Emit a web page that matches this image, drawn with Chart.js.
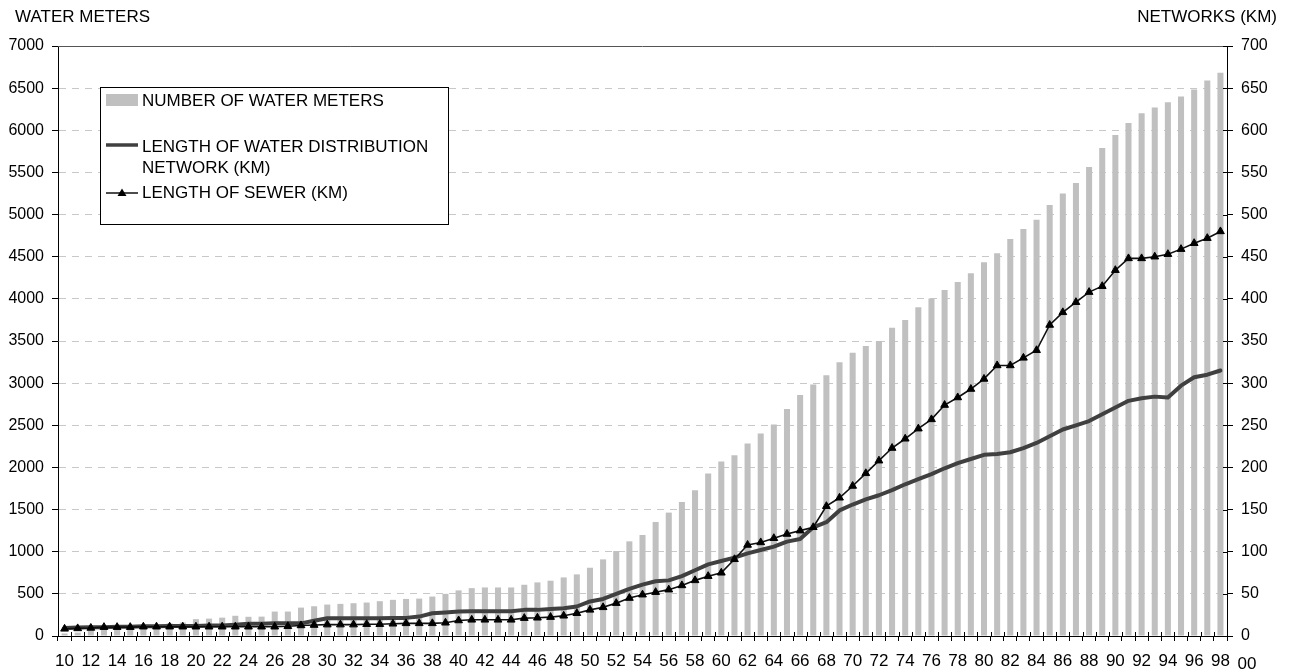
<!DOCTYPE html>
<html><head><meta charset="utf-8">
<script src="https://cdn.jsdelivr.net/npm/chart.js@4.4.0/dist/chart.umd.min.js"></script>
<style>html,body{margin:0;padding:0;background:#fff;}#wrap{width:1295px;height:672px;position:relative;}</style>
</head><body><div id="wrap"><canvas id="c" width="1295" height="672"></canvas></div>
<script>
const years = ['10','11','12','13','14','15','16','17','18','19','20','21','22','23','24','25','26','27','28','29',
'30','31','32','33','34','35','36','37','38','39','40','41','42','43','44','45','46','47','48','49',
'50','51','52','53','54','55','56','57','58','59','60','61','62','63','64','65','66','67','68','69',
'70','71','72','73','74','75','76','77','78','79','80','81','82','83','84','85','86','87','88','89',
'90','91','92','93','94','95','96','97','98'];
const extraLabel = '00';
const waterMeters = [30,40,60,80,100,110,120,130,150,160,
200,206,218,240,228,230,290,290,337,353,373,381,389,397,413,429,440,444,468,500,
541,568,576,576,576,608,636,656,695,731,810,909,1008,1123,1198,1353,1464,1590,1729,1927,
2070,2145,2284,2403,2510,2692,2858,2985,3095,3247,
3361,3441,3500,3658,3750,3901,4003,4106,4201,4305,4435,4542,4709,4828,4938,5113,5251,5375,5565,5790,
5945,6087,6202,6269,6332,6400,6483,6590,6682];
const waterNetworkKm = [9.5,10,10.5,10.5,11,11,11.5,11.5,12,12,12,12.5,12.5,13.5,14.5,14.5,15,15,15,18,
21,21,21,21,21,21.5,21.5,23,27,28,
29,29.5,29.5,29.5,29.5,31,31,32,33,35,41,44,50,56,61,65,66,71,78,85,89,93,98,102,106,112,115,129,135,149,156,
162,167,173,180,186,192,199,205,210,215,216,218,223,229,237,245,250,255,263,271,279,282,284,283,297,307,310,315];
const sewerKm = [8.5,9,9.5,10.5,10.5,10.5,11,11,11,11,11,11,11,11,11,11,11,11.5,12.5,13,
13.5,13.5,13.5,14,14,14.5,15,15,15,15.7,
18.4,19.2,19.2,19.2,19.2,21.2,21.6,22.4,24,27,31,34,39,45,49,52,55,60,66,71,75,91,108,111,116,121,125,129,154,164,178,
193,208,223,234,246,257,274,283,293,305,321,321,330,339,369,384,396,408,415,434,448,448,450,453,459,466,472,480];
const leftTitle = 'WATER METERS';
const rightTitle = 'NETWORKS (KM)';
const seriesNames = ['NUMBER OF WATER METERS', ['LENGTH OF WATER DISTRIBUTION','NETWORK (KM)'], 'LENGTH OF SEWER (KM)'];

const FONT = '"Liberation Sans", Arial, sans-serif';
const BAR = '#C0C0C0', NET = '#404040', SEW = '#111111';

const extras = {
  id: 'extras',
  afterDraw(chart) {
    const ctx = chart.ctx, ca = chart.chartArea;
    ctx.save();
    ctx.strokeStyle = '#555'; ctx.lineWidth = 1;
    ctx.beginPath(); ctx.moveTo(ca.left, Math.round(ca.top) + 0.5); ctx.lineTo(ca.right, Math.round(ca.top) + 0.5); ctx.stroke();
    ctx.strokeStyle = '#000';
    const n = years.length, w = (ca.right - ca.left) / n;
    ctx.beginPath();
    for (let i = 0; i <= n; i++) {
      const x = Math.round(ca.left + i * w) + 0.5;
      ctx.moveTo(x, ca.bottom - 4); ctx.lineTo(x, ca.bottom);
    }
    const y1 = chart.scales.y1;
    y1.ticks.forEach((t, i) => {
      const y = Math.round(y1.getPixelForTick(i)) + 0.5;
      ctx.moveTo(ca.right - 4, y); ctx.lineTo(ca.right, y);
    });
    ctx.stroke();
    ctx.fillStyle = '#000';
    ctx.font = '17px ' + FONT;
    ctx.textBaseline = 'middle';
    ctx.textAlign = 'left';
    ctx.fillText(leftTitle, 15, 17);
    ctx.textAlign = 'right';
    ctx.fillText(rightTitle, 1277, 17);
    ctx.textAlign = 'center';
    ctx.fillText(extraLabel, 1247, 664);
    const lx = 100.5, ly = 87.5, lw = 348, lh = 137;
    ctx.fillStyle = '#fff'; ctx.fillRect(lx, ly, lw, lh);
    ctx.strokeStyle = '#000'; ctx.lineWidth = 1; ctx.strokeRect(lx, ly, lw, lh);
    ctx.fillStyle = BAR; ctx.fillRect(106, 94, 32, 12);
    ctx.strokeStyle = NET; ctx.lineWidth = 3.5;
    ctx.beginPath(); ctx.moveTo(106, 145); ctx.lineTo(138, 145); ctx.stroke();
    ctx.strokeStyle = SEW; ctx.lineWidth = 1.5;
    ctx.beginPath(); ctx.moveTo(106, 193); ctx.lineTo(138, 193); ctx.stroke();
    ctx.fillStyle = '#000';
    ctx.beginPath(); ctx.moveTo(122, 188.5); ctx.lineTo(126.5, 196); ctx.lineTo(117.5, 196); ctx.closePath(); ctx.fill();
    ctx.font = '17px ' + FONT; ctx.textAlign = 'left'; ctx.textBaseline = 'middle';
    ctx.fillText(seriesNames[0], 142, 101);
    ctx.fillText(seriesNames[1][0], 142, 147);
    ctx.fillText(seriesNames[1][1], 142, 168);
    ctx.fillText(seriesNames[2], 142, 193);
    ctx.restore();
  }
};

new Chart(document.getElementById('c'), {
  data: {
    labels: years,
    datasets: [
      { type: 'bar', label: 'meters', data: waterMeters, yAxisID: 'y', backgroundColor: BAR,
        categoryPercentage: 1, barPercentage: 0.46, order: 3 },
      { type: 'line', label: 'net', data: waterNetworkKm, yAxisID: 'y1', borderColor: NET, borderWidth: 4,
        pointRadius: 0, tension: 0, order: 2, borderJoinStyle: 'round', borderCapStyle: 'round' },
      { type: 'line', label: 'sewer', data: sewerKm, yAxisID: 'y1', borderColor: SEW, borderWidth: 1.6,
        pointStyle: 'triangle', pointRadius: 4.5, pointBackgroundColor: '#000', pointBorderColor: '#000', pointBorderWidth: 1,
        tension: 0, order: 1 }
    ]
  },
  options: {
    responsive: false, animation: false, devicePixelRatio: 1,
    layout: { padding: { top: 46, left: 0, right: 0, bottom: 0 } },
    plugins: { legend: { display: false }, tooltip: { enabled: false } },
    scales: {
      x: {
        type: 'category', offset: true,
        grid: { offset: true, drawOnChartArea: false, drawTicks: true, tickLength: 5, tickColor: '#000' },
        border: { color: '#000', width: 1 },
        ticks: { autoSkip: false, maxRotation: 0, minRotation: 0, padding: 10, color: '#000',
          font: { family: FONT, size: 17 },
          callback: function(v, i) { return i % 2 === 0 ? this.getLabelForValue(v) : ''; } },
        afterFit: s => { s.height = 36; }
      },
      y: {
        position: 'left', min: 0, max: 7000,
        ticks: { stepSize: 500, color: '#000', padding: 8, font: { family: FONT, size: 16 },
          callback: v => String(v) },
        grid: { color: '#C8C8C8', tickColor: '#000', tickLength: 6, tickBorderDash: [] },
        border: { color: '#000', width: 1, dash: [7, 6] },
        afterFit: s => { s.width = 58; }
      },
      y1: {
        position: 'right', min: 0, max: 700,
        ticks: { stepSize: 50, color: '#000', padding: 8, font: { family: FONT, size: 16 },
          callback: v => String(v) },
        grid: { drawOnChartArea: false, tickColor: '#000', tickLength: 6 },
        border: { color: '#000', width: 1 },
        afterFit: s => { s.width = 68; }
      }
    }
  },
  plugins: [extras]
});
</script></body></html>
